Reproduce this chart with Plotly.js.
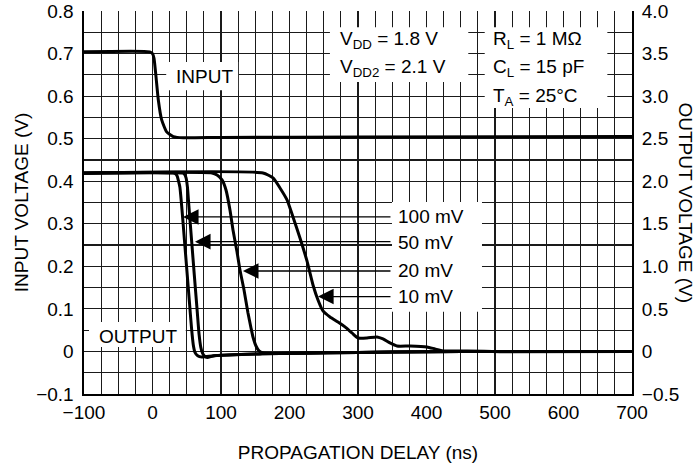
<!DOCTYPE html>
<html><head><meta charset="utf-8">
<script src="https://cdn.plot.ly/plotly-3.0.1.min.js"></script>
<style>html,body{margin:0;padding:0;background:#fff}#chart{width:696px;height:463px}</style>
</head><body><div id="chart"></div>
<script>
// ---- data (time in ns) ----
const inputT = [-100, -4, 0, 2.2, 5.1, 8.5, 13.4, 20.7, 30.4, 45, 100, 300, 700];
const inputV = [0.704, 0.704, 0.700, 0.689, 0.646, 0.591, 0.544, 0.516, 0.505, 0.502, 0.503, 0.504, 0.505];

// output voltages in volts (right axis)
const out100T = [-100, 30, 34, 36, 38, 40, 43, 46.6, 50, 54, 57, 59.5, 62, 66, 72, 90, 160, 211, 300, 400, 500, 700];
const out100V = [2.095, 2.095, 2.085, 2.06, 2.0, 1.93, 1.67, 1.31, 0.97, 0.57, 0.27, 0.08, -0.01, -0.05, -0.065, -0.05, -0.028, -0.02, -0.012, -0.003, 0.0, 0.0];

const out50T = [-100, 44, 47, 49, 51, 53, 57, 61, 65, 68, 70.5, 73, 76, 80, 90, 160, 211, 300, 400, 500, 700];
const out50V = [2.095, 2.095, 2.08, 2.04, 1.93, 1.72, 1.31, 0.90, 0.50, 0.20, 0.05, -0.02, -0.055, -0.07, -0.05, -0.028, -0.02, -0.012, -0.003, 0.0, 0.0];

const out20T = [-100, 86.9, 94.2, 101.5, 107.3, 113.1, 117.5, 123.4, 127.7, 133.6, 139.4, 143.8, 146.7, 151.1, 155.5, 161.3, 171.5, 211, 300, 400, 500, 700];
const out20V = [2.097, 2.097, 2.073, 2.015, 1.897, 1.662, 1.427, 1.169, 0.957, 0.722, 0.452, 0.276, 0.170, 0.064, 0.006, -0.018, -0.024, -0.02, -0.012, -0.003, 0.0, 0.0];

const out10T = [-100, 161.3, 175.9, 186.1, 196.4, 205.1, 215.3, 225.5, 234.3, 241.6, 248.9, 259.1, 270.8, 281.0, 291.2, 300.0, 313.1, 327.7, 336.5, 346.7, 356.9, 375.9, 400.7, 412.4, 424.1, 459.1, 507.3, 700];
const out10V = [2.097, 2.097, 2.038, 1.921, 1.780, 1.580, 1.333, 1.063, 0.781, 0.605, 0.476, 0.405, 0.346, 0.288, 0.217, 0.158, 0.158, 0.170, 0.147, 0.100, 0.064, 0.064, 0.053, 0.029, 0.006, 0.006, -0.003, 0.0];

const xTicks = [-100, 0, 100, 200, 300, 400, 500, 600, 700];
const xTickText = ['\u2212100', '0', '100', '200', '300', '400', '500', '600', '700'];
const yTicks = [-0.1, 0, 0.1, 0.2, 0.3, 0.4, 0.5, 0.6, 0.7, 0.8];
const yTickText = ['\u22120.1', '0', '0.1', '0.2', '0.3', '0.4', '0.5', '0.6', '0.7', '0.8'];
const y2Ticks = [-0.5, 0, 0.5, 1.0, 1.5, 2.0, 2.5, 3.0, 3.5, 4.0];
const y2TickText = ['\u22120.5', '0', '0.5', '1.0', '1.5', '2.0', '2.5', '3.0', '3.5', '4.0'];

const seriesLabels = ['100 mV', '50 mV', '20 mV', '10 mV'];

const FONT = 'Liberation Sans, Arial, sans-serif';
const FS = 19;

const lineStyle = {color: '#000', width: 3, shape: 'spline', smoothing: 0.5};
const traces = [
  {x: inputT, y: inputV, yaxis: 'y', mode: 'lines', line: lineStyle, hoverinfo: 'skip'},
  {x: out100T, y: out100V, yaxis: 'y2', mode: 'lines', line: lineStyle, hoverinfo: 'skip'},
  {x: out50T, y: out50V, yaxis: 'y2', mode: 'lines', line: lineStyle, hoverinfo: 'skip'},
  {x: out20T, y: out20V, yaxis: 'y2', mode: 'lines', line: lineStyle, hoverinfo: 'skip'},
  {x: out10T, y: out10V, yaxis: 'y2', mode: 'lines', line: lineStyle, hoverinfo: 'skip'}
];

function box(x0, x1, y0, y1) {
  return {type: 'rect', xref: 'x', yref: 'y', x0: x0, x1: x1, y0: y0, y1: y1,
          fillcolor: '#fff', line: {width: 0}, layer: 'above'};
}
const shapes = [
  box(259, 461, 0.633, 0.762),
  box(485, 664, 0.572, 0.762),
  box(20, 125, 0.614, 0.680),
  box(-92.7, 48.5, 0.0105, 0.069),
  box(349.6, 481, 0.093, 0.351)
];

function txt(x, y, text, anchor) {
  return {xref: 'x', yref: 'y', x: x, y: y, text: text, showarrow: false,
          xanchor: anchor || 'left', yanchor: 'middle', font: {family: FONT, size: FS, color: '#000'}};
}
const arrowTips = [[44.5, 0.316], [62, 0.258], [132, 0.189], [241.6, 0.129]];
const labelY = [0.316, 0.255, 0.191, 0.128];
const annotations = [
  txt(76.6, 0.645, 'INPUT', 'center'),
  txt(-20.4, 0.036, 'OUTPUT', 'center'),
  txt(271, 0.732, 'V<sub>DD</sub> = 1.8 V'),
  txt(271, 0.666, 'V<sub>DD2</sub> = 2.1 V'),
  txt(494, 0.732, 'R<sub>L</sub> = 1 M\u03A9'),
  txt(494, 0.666, 'C<sub>L</sub> = 15 pF'),
  txt(494, 0.598, 'T<sub>A</sub> = 25\u00B0C')
];
seriesLabels.forEach(function (lab, i) {
  annotations.push(txt(356, labelY[i], lab));
  annotations.push({xref: 'x', yref: 'y', axref: 'x', ayref: 'y', x: arrowTips[i][0], y: arrowTips[i][1],
    ax: 349.6, ay: arrowTips[i][1], text: '', showarrow: true, arrowhead: 2, arrowsize: 2.4,
    arrowwidth: 1.3, arrowcolor: '#000', standoff: 0});
});
annotations.push({xref: 'paper', yref: 'paper', x: 1, y: 0.5, xshift: 53, text: 'OUTPUT VOLTAGE (V)',
  textangle: 90, showarrow: false, xanchor: 'center', yanchor: 'middle', font: {family: FONT, size: FS, color: '#000'}});

const gridC = '#1a1a1a';
const layout = {
  width: 696, height: 463,
  margin: {l: 84, r: 64, t: 11, b: 69},
  paper_bgcolor: '#fff', plot_bgcolor: '#fff',
  showlegend: false,
  font: {family: FONT, size: FS, color: '#000'},
  xaxis: {range: [-100, 700], tickmode: 'array', tickvals: xTicks, ticktext: xTickText,
    showgrid: true, gridcolor: gridC, gridwidth: 1.2, zeroline: false,
    showline: true, linecolor: '#000', linewidth: 2, ticks: '',
    minor: {dtick: 25, tick0: 0, showgrid: true, gridcolor: gridC, gridwidth: 1.2},
    tickfont: {family: FONT, size: FS},
    title: {text: 'PROPAGATION DELAY (ns)', font: {family: FONT, size: FS}, standoff: 24}},
  yaxis: {range: [-0.1, 0.8], tickmode: 'array', tickvals: yTicks, ticktext: yTickText,
    showgrid: true, gridcolor: gridC, gridwidth: 1.2, zeroline: false,
    showline: true, linecolor: '#000', linewidth: 2.5, ticks: '', ticklabelstandoff: 4,
    minor: {dtick: 0.05, tick0: 0, showgrid: true, gridcolor: gridC, gridwidth: 1.2},
    tickfont: {family: FONT, size: FS},
    title: {text: 'INPUT VOLTAGE (V)', font: {family: FONT, size: FS}, standoff: 3}},
  yaxis2: {range: [-0.5, 4.0], overlaying: 'y', side: 'right', tickmode: 'array', tickvals: y2Ticks, ticktext: y2TickText,
    showgrid: false, zeroline: false, showline: true, linecolor: '#000', linewidth: 2, ticks: '', ticklabelstandoff: 4,
    tickfont: {family: FONT, size: FS}},
  shapes: shapes,
  annotations: annotations
};
Plotly.newPlot('chart', traces, layout, {staticPlot: true, displayModeBar: false});
</script></body></html>
